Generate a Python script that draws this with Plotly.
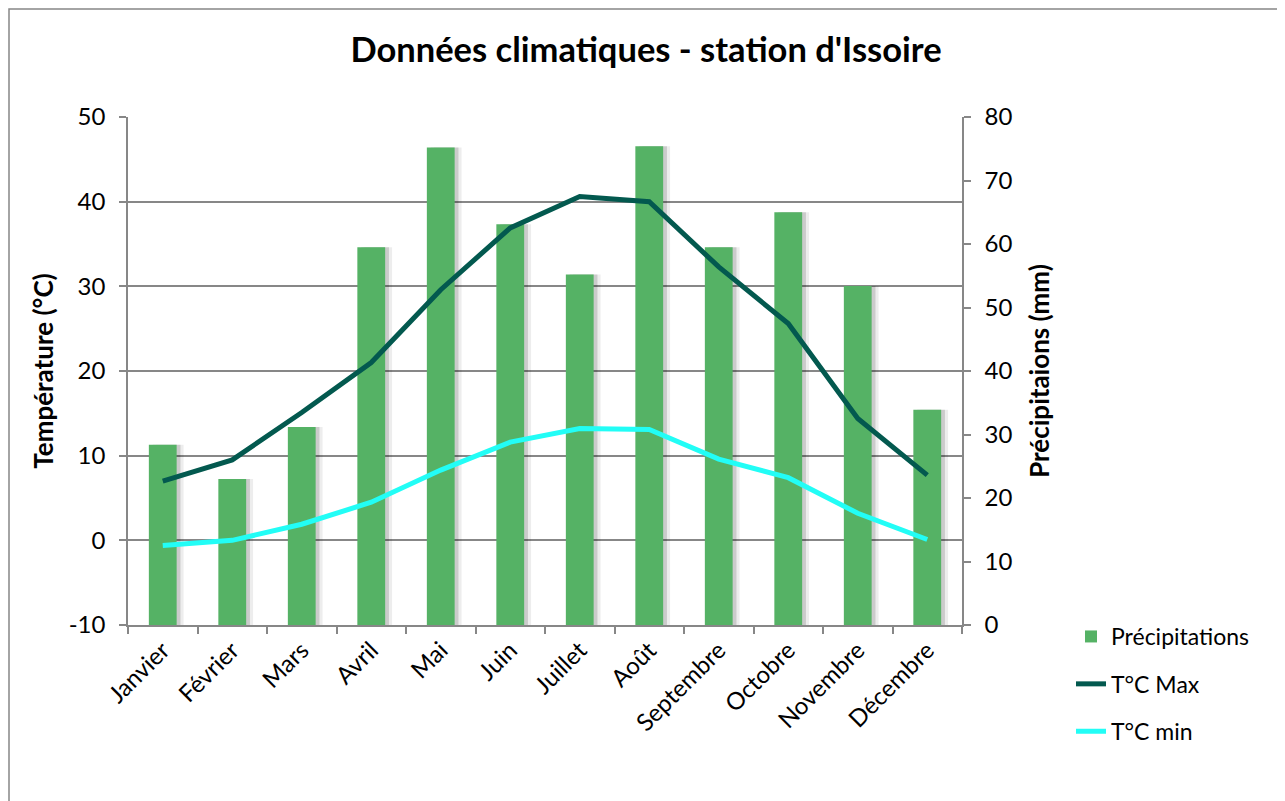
import plotly.graph_objects as go

months = ["Janvier", "Février", "Mars", "Avril", "Mai", "Juin", "Juillet",
          "Août", "Septembre", "Octobre", "Novembre", "Décembre"]
precip_mm = [28.4, 23.0, 31.2, 59.5, 75.2, 63.1, 55.2, 75.4, 59.5, 65.0, 53.4, 33.9]
tmax_c = [7.0, 9.5, 15.1, 21.0, 29.6, 36.9, 40.6, 40.0, 32.3, 25.6, 14.4, 7.7]
tmin_c = [-0.6, 0.0, 1.9, 4.5, 8.3, 11.6, 13.2, 13.1, 9.6, 7.4, 3.2, 0.1]

temp_ticks = [-10, 0, 10, 20, 30, 40, 50]
temp_labels = [str(v) for v in temp_ticks]
precip_ticks = [0, 10, 20, 30, 40, 50, 60, 70, 80]
precip_labels = [str(v) for v in precip_ticks]

FONT = "Lato, 'Open Sans', sans-serif"
GRID = "#878787"
BAR = "#55B265"
TMAX = "#03594F"
TMIN = "#22FDF6"

# page has an 8px body margin; work in page coordinates and shift
D = 8
PAGE_W, PAGE_H = 1285, 801
W, H = PAGE_W - D, PAGE_H - D
PX_L, PX_R, PX_T, PX_B = 128, 962, 117, 625      # plot area in page px
L, R, T, B = PX_L - D, W - (PX_R - D), PX_T - D, H - (PX_B - D)
pw, ph = W - L - R, H - T - B


def xp(px):  # page x -> paper
    return (px - PX_L) / pw


def yp(py):  # page y -> paper
    return (PX_B - py) / ph


fig = go.Figure()

# soft shadow behind bars
fig.add_trace(go.Bar(x=months, y=precip_mm, yaxis="y", width=0.4, offset=-0.2 + 0.10,
                     marker=dict(color="rgba(0,0,0,0.07)", line=dict(width=0)),
                     showlegend=False, hoverinfo="skip"))
fig.add_trace(go.Bar(x=months, y=precip_mm, yaxis="y", width=0.4, offset=-0.2 + 0.055,
                     marker=dict(color="rgba(0,0,0,0.14)", line=dict(width=0)),
                     showlegend=False, hoverinfo="skip"))
fig.add_trace(go.Bar(x=months, y=precip_mm, yaxis="y", width=0.4, offset=-0.2,
                     name="Précipitations", legendgroup="a",
                     marker=dict(color=BAR, line=dict(width=0))))
fig.add_trace(go.Scatter(x=months, y=tmax_c, yaxis="y2", mode="lines", name="T°C Max",
                         legendgroup="b", line=dict(color=TMAX, width=5)))
fig.add_trace(go.Scatter(x=months, y=tmin_c, yaxis="y2", mode="lines", name="T°C min",
                         legendgroup="c", line=dict(color=TMIN, width=5)))

fig.update_layout(
    width=W, height=H,
    margin=dict(l=L, r=R, t=T, b=B, autoexpand=False),
    paper_bgcolor="white", plot_bgcolor="white",
    font=dict(family=FONT, size=24, color="#000000"),
    barmode="overlay",
    title=dict(text="<b>Données climatiques - station d'Issoire</b>",
               x=(646 - D) / W, xref="container", xanchor="center",
               y=1 - (50 - D) / H, yref="container", yanchor="middle",
               font=dict(family=FONT, size=34.5, color="#000000")),
    xaxis=dict(type="category", showline=True, linecolor=GRID, linewidth=1.5,
               ticks="outside", tickson="boundaries", ticklen=7, tickcolor=GRID, tickwidth=1.5,
               tickangle=-45, showgrid=False, tickfont=dict(size=24),
               range=[-0.5, 11.5]),
    yaxis=dict(side="right", range=[0, 80], tickmode="array", tickvals=precip_ticks,
               ticktext=precip_labels, showgrid=False,
               zeroline=False, showline=True, linecolor=GRID, linewidth=1.5,
               ticks="outside", ticklen=7, tickcolor=GRID, tickwidth=1.5,
               ticklabelstandoff=9, tickfont=dict(size=24),
               title=dict(text="<b>Précipitaions (mm)</b>", font=dict(size=26), standoff=19)),
    yaxis2=dict(side="left", overlaying="y", range=[-10, 50], tickmode="array",
                tickvals=temp_ticks, ticktext=temp_labels,
                showgrid=True, gridcolor=GRID, gridwidth=1.5, zeroline=False,
                showline=True, linecolor=GRID, linewidth=1.5,
                ticks="outside", ticklen=7, tickcolor=GRID, tickwidth=1.5,
                ticklabelstandoff=9, tickfont=dict(size=24),
                title=dict(text="<b>Température (°C)</b>", font=dict(size=26), standoff=8)),
    legend=dict(x=xp(1071), y=yp(615), xanchor="left", yanchor="top",
                xref="paper", yref="paper", traceorder="grouped", tracegroupgap=14.5,
                font=dict(size=23), bgcolor="rgba(0,0,0,0)"),
    shapes=[dict(type="rect", xref="paper", yref="paper",
                 x0=xp(D + 1), x1=xp(PAGE_W + 10),
                 y0=yp(PAGE_H + 10), y1=yp(D + 1),
                 line=dict(color=GRID, width=1.5), layer="below")],
)

fig.write_html("out.html")
